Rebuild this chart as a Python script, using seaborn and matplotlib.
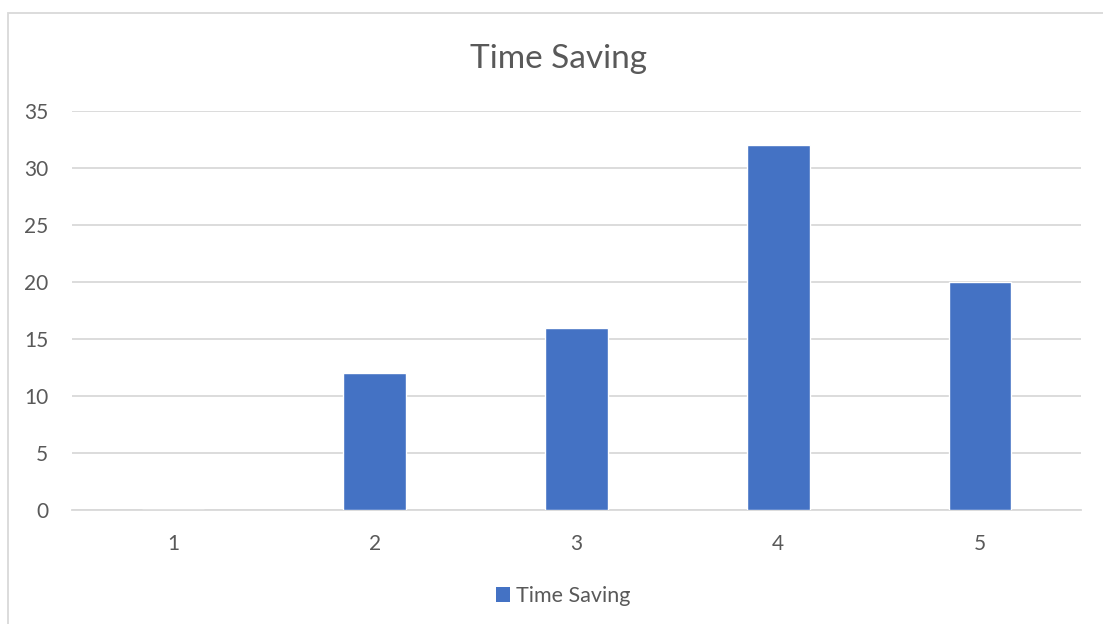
import matplotlib
matplotlib.use("Agg")
import matplotlib.pyplot as plt
import seaborn as sns
import pandas as pd
from matplotlib.patches import Rectangle, Patch

categories = ["1", "2", "3", "4", "5"]
time_saving = [0, 12, 16, 32, 20]
y_ticks = [0, 5, 10, 15, 20, 25, 30, 35]

sns.set_theme(style="white")
plt.rcParams["font.family"] = ["Lato", "DejaVu Sans"]

df = pd.DataFrame({"category": categories, "value": time_saving})

fig = plt.figure(figsize=(11.03, 6.24), dpi=100)
ax = fig.add_axes([72 / 1103, 1 - 510 / 624, (1081 - 72) / 1103, (510 - 111) / 624])

# outer chart frame
fig.patches.append(Rectangle((7.5 / 1103, -0.05), 1.2, 1 - 12.5 / 624 + 0.05,
                             transform=fig.transFigure, fill=False,
                             edgecolor="#d9d9d9", linewidth=1.3, zorder=0))

sns.barplot(data=df, x="category", y="value", color="#4472C4", width=0.31,
            saturation=1, ax=ax, zorder=3)

ax.set_ylim(0, 35)
ax.set_yticks(y_ticks)
ax.set_xlim(-0.5, 4.5)
ax.yaxis.grid(True, color="#d9d9d9", linewidth=1.3, zorder=0)
ax.set_axisbelow(True)
for s in ["top", "right", "left"]:
    ax.spines[s].set_visible(False)
ax.spines["bottom"].set_color("#d9d9d9")
ax.spines["bottom"].set_linewidth(1.3)
ax.set_xlabel("")
ax.set_ylabel("")
ax.tick_params(axis="both", length=0, colors="#595959", labelsize=15)
ax.tick_params(axis="y", pad=17)
ax.tick_params(axis="x", pad=17)

fig.text(559 / 1103, 1 - 59 / 624, "Time Saving", ha="center", va="center",
         fontsize=24, color="#595959")

handle = Patch(facecolor="#4472C4", edgecolor="none")
fig.legend([handle], ["Time Saving"], loc="center", bbox_to_anchor=(563 / 1103, 1 - 596 / 624),
           frameon=False, fontsize=15.5, labelcolor="#595959", handlelength=0.65,
           handleheight=0.65, handletextpad=0.25)

fig.savefig("out.png", dpi=100, facecolor="white")
